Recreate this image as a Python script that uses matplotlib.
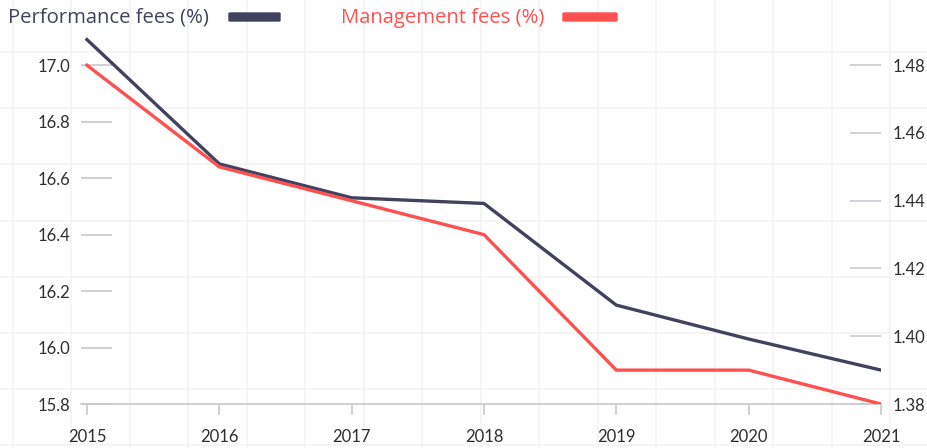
import matplotlib
matplotlib.use("Agg")
import matplotlib.pyplot as plt
from matplotlib.patches import FancyBboxPatch
import numpy as np

# fee history
years = [2015, 2016, 2017, 2018, 2019, 2020, 2021]
performance_fees = [17.09, 16.65, 16.53, 16.51, 16.15, 16.03, 15.92]
management_fees = [1.48, 1.45, 1.44, 1.43, 1.39, 1.39, 1.38]

left_ticks = [15.8, 16.0, 16.2, 16.4, 16.6, 16.8, 17.0]
right_ticks = [1.38, 1.40, 1.42, 1.44, 1.46, 1.48]

perf_color = "#41435e"
mgmt_color = "#ff5050"
text_color = "#2e2e33"

plt.rcParams['font.family'] = ['Lato', 'DejaVu Sans']

W, H = 928, 448
fig = plt.figure(figsize=(W / 100, H / 100), dpi=100)

# faint square grid behind everything
bg = fig.add_axes([0, 0, 1, 1], zorder=0)
bg.set_xlim(0, W)
bg.set_ylim(H, 0)
bg.axis('off')
for gx in np.arange(13, W, 58.5):
    bg.axvline(gx, color="#f3f3f5", lw=1.2)
for gy in np.arange(52, H, 56.2):
    bg.axhline(gy, color="#f3f3f5", lw=1.2)

ax = fig.add_axes([81 / W, 44 / H, 800 / W, 374 / H], zorder=1)
ax.patch.set_alpha(0)
ax2 = ax.twinx()
ax2.patch.set_alpha(0)

ax.plot(years, performance_fees, color=perf_color, lw=2.4, zorder=3,
        solid_joinstyle='miter')
ax2.plot(years, management_fees, color=mgmt_color, lw=2.4, zorder=3,
         solid_joinstyle='miter')

ax.set_xlim(2014.955, 2021.0)
ax.set_ylim(15.8, 17.124)
ax2.set_ylim(1.38, 1.4904)

for a in (ax, ax2):
    for s in a.spines.values():
        s.set_visible(False)
ax.spines['bottom'].set_visible(True)
ax.spines['bottom'].set_color("#c8c8c8")
ax.spines['bottom'].set_linewidth(1.2)

ax.set_xticks(years)
ax.set_xticklabels([str(y) for y in years])
ax.tick_params(axis='x', direction='out', length=8, width=1.2,
               color="#c8c8c8", labelsize=12, labelcolor=text_color, pad=10)

ax.set_yticks(left_ticks)
ax.set_yticklabels([f"{v:.1f}" for v in left_ticks])
ax.tick_params(axis='y', direction='in', length=22, width=1.2,
               color="#c8c8c8", labelsize=12, labelcolor=text_color, pad=8)

ax2.set_yticks(right_ticks)
ax2.set_yticklabels([f"{v:.2f}" for v in right_ticks])
ax2.tick_params(axis='y', direction='in', length=22, width=1.2,
                color="#c9cad6", labelsize=12, labelcolor=text_color, pad=8)

# legend row on top
legend_font = ['Open Sans', 'DejaVu Sans']
fig.text(8 / W, 1 - 18 / H, "Performance fees (%)", color=perf_color,
         fontsize=14.6, va='center', ha='left', family=legend_font)
fig.patches.append(FancyBboxPatch((229 / W, 1 - 21 / H), 51 / W, 8 / H,
                                  boxstyle="round,pad=0,rounding_size=0.0015",
                                  transform=fig.transFigure, color=perf_color))
fig.text(341 / W, 1 - 18 / H, "Management fees (%)", color=mgmt_color,
         fontsize=14.6, va='center', ha='left', family=legend_font)
fig.patches.append(FancyBboxPatch((563 / W, 1 - 21 / H), 54 / W, 8 / H,
                                  boxstyle="round,pad=0,rounding_size=0.0015",
                                  transform=fig.transFigure, color=mgmt_color))

fig.savefig("out.png", dpi=100)
